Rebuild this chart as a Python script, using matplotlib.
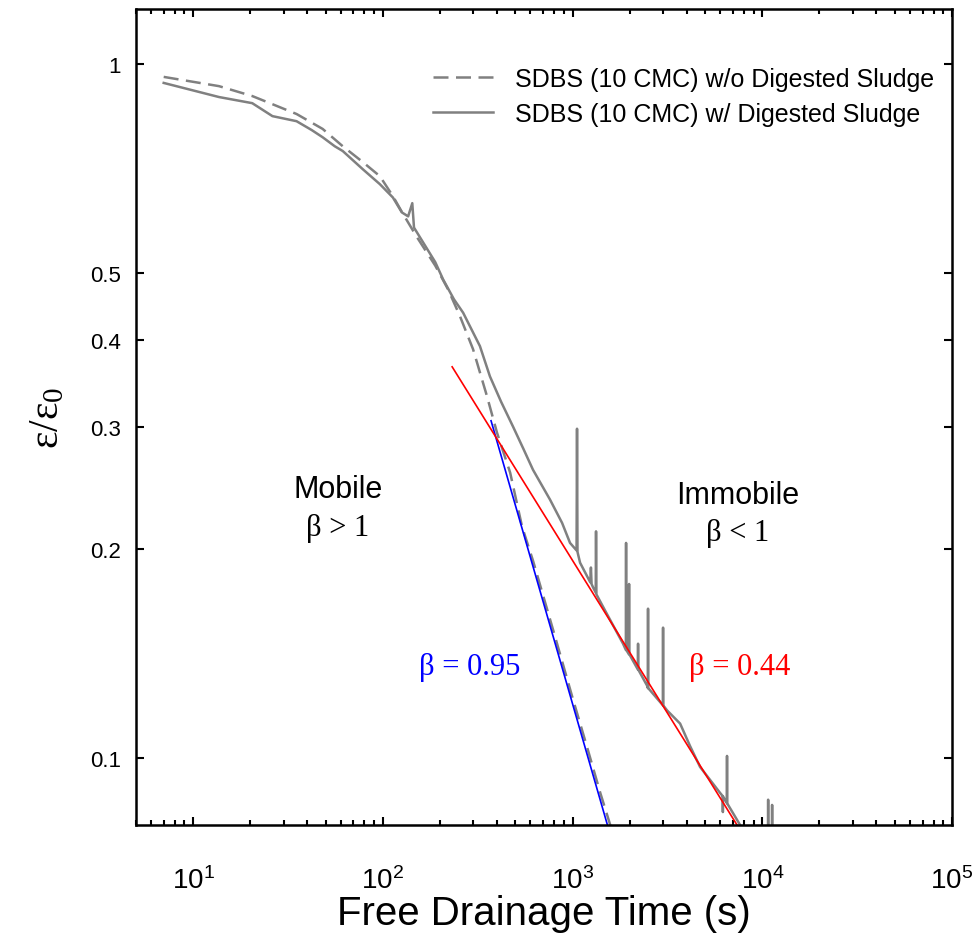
import numpy as np
import matplotlib
matplotlib.use('Agg')
import matplotlib.pyplot as plt
from matplotlib.ticker import FixedLocator, FixedFormatter, LogLocator, NullFormatter

plt.rcParams['font.family'] = ['Liberation Sans', 'DejaVu Sans']
plt.rcParams['mathtext.fontset'] = 'custom'
plt.rcParams['mathtext.rm'] = 'Liberation Sans'
plt.rcParams['mathtext.it'] = 'Liberation Sans:italic'

# w/o digested sludge (dashed)
t_wo = [7.0, 13.7, 20.5, 26.2, 35.1, 48.2, 61.5, 78.5, 96.5, 113, 126, 150, 189, 221,
        255, 299, 354, 400, 469, 542, 620, 800, 1000, 1200, 1400, 1580, 1700]
v_wo = [0.958, 0.929, 0.899, 0.875, 0.847, 0.806, 0.761, 0.722, 0.689, 0.645, 0.612,
        0.565, 0.512, 0.473, 0.433, 0.388, 0.332, 0.294, 0.2576, 0.2153, 0.192, 0.151,
        0.122, 0.103, 0.089, 0.080, 0.076]

# w/ digested sludge (solid), spikes are single samples in the record
t_w = [7.0, 13.7, 20.5, 26.2, 35.1, 42.2, 48.2, 55.8, 61.5, 78.5, 96.5, 113, 126, 136,
       143, 146, 189, 208, 237, 265, 325, 367, 420, 486, 550, 619, 761, 881, 970, 1050,
       1056, 1062, 1096, 1240, 1250, 1260, 1283, 1325, 1330, 1336, 1484, 1846, 1910, 1915,
       1920, 1980, 1986, 1992, 2210, 2215, 2220, 2472, 2495, 2500, 2505, 2995, 3000, 3005,
       3150, 3690, 4160, 4700, 5990, 6195, 6200, 6205, 6515, 6520, 6525, 7640, 8500, 10700,
       10740, 10780, 11230, 11270, 11310, 12000]
v_w = [0.939, 0.896, 0.878, 0.841, 0.827, 0.803, 0.784, 0.761, 0.749, 0.705, 0.671, 0.642,
       0.611, 0.603, 0.630, 0.581, 0.518, 0.489, 0.458, 0.438, 0.392, 0.3545, 0.326, 0.300,
       0.279, 0.260, 0.2355, 0.218, 0.204, 0.199, 0.298, 0.198, 0.191, 0.179, 0.188, 0.178,
       0.176, 0.173, 0.212, 0.172, 0.163, 0.146, 0.143, 0.204, 0.143, 0.141, 0.178, 0.141,
       0.134, 0.146, 0.134, 0.127, 0.126, 0.164, 0.126, 0.119, 0.154, 0.119, 0.117, 0.112,
       0.104, 0.097, 0.089, 0.088, 0.0835, 0.088, 0.086, 0.1006, 0.086, 0.080, 0.076, 0.072,
       0.087, 0.072, 0.071, 0.0855, 0.071, 0.070]

# power-law fit lines (end points)
blue_t = [372, 1527]
blue_v = [0.306, 0.080]
red_t = [232, 7640]
red_v = [0.366, 0.0787]

y_ticks = [0.1, 0.2, 0.3, 0.4, 0.5, 1]
y_tick_labels = ['0.1', '0.2', '0.3', '0.4', '0.5', '1']

fig = plt.figure(figsize=(9.74, 9.37), dpi=100)
ax = fig.add_axes([0.1396, 0.1185, 0.8378, 0.8708])

gray = '#808080'
ax.plot(t_wo, v_wo, color=gray, lw=1.8, dashes=(6, 3),
        label='SDBS (10 CMC) w/o Digested Sludge')
ax.plot(t_w, v_w, color=gray, lw=1.8, label='SDBS (10 CMC) w/ Digested Sludge')
ax.plot(blue_t, blue_v, color='#0000ff', lw=1.2)
ax.plot(red_t, red_v, color='#ff0000', lw=1.2)

ax.set_xscale('log')
ax.set_yscale('log')
ax.set_xlim(5, 1e5)
ax.set_ylim(0.08, 1.2)

ax.xaxis.set_major_locator(LogLocator(base=10, numticks=10))
ax.xaxis.set_minor_locator(LogLocator(base=10, subs=np.arange(2, 10), numticks=20))
ax.xaxis.set_minor_formatter(NullFormatter())
ax.yaxis.set_major_locator(FixedLocator(y_ticks))
ax.yaxis.set_major_formatter(FixedFormatter(y_tick_labels))
ax.yaxis.set_minor_locator(FixedLocator([]))

ax.tick_params(which='both', direction='in', top=True, right=True, width=1.5)
ax.tick_params(which='major', length=6)
ax.tick_params(which='minor', length=3.5)
ax.tick_params(axis='x', which='major', labelsize=20, pad=30)
ax.tick_params(axis='y', which='major', labelsize=16, pad=11)
for s in ax.spines.values():
    s.set_linewidth(1.8)

ax.set_xlabel('Free Drainage Time (s)', fontsize=29, labelpad=0)
ax.set_ylabel(r'$\mathregular{ε/ε_0}$', fontsize=30, family='Liberation Serif', labelpad=16)

serif = 'Liberation Serif'
ax.text(0.2475, 0.412, 'Mobile', transform=ax.transAxes, fontsize=22, ha='center', va='center')
ax.text(0.2475, 0.365, 'β > 1', transform=ax.transAxes, fontsize=22, ha='center', va='center',
        family=serif)
ax.text(0.7377, 0.405, 'Immobile', transform=ax.transAxes, fontsize=22, ha='center', va='center')
ax.text(0.7377, 0.358, 'β < 1', transform=ax.transAxes, fontsize=22, ha='center', va='center',
        family=serif)
ax.text(0.409, 0.194, 'β = 0.95', transform=ax.transAxes, fontsize=22, ha='center', va='center',
        family=serif, color='#0000ff')
ax.text(0.740, 0.194, 'β = 0.44', transform=ax.transAxes, fontsize=22, ha='center', va='center',
        family=serif, color='#ff0000')

ax.legend(loc='upper right', bbox_to_anchor=(1.006, 0.957), frameon=False, fontsize=18,
          handlelength=2.4, handletextpad=0.9, labelspacing=0.45)

fig.savefig('out.png', dpi=100)
